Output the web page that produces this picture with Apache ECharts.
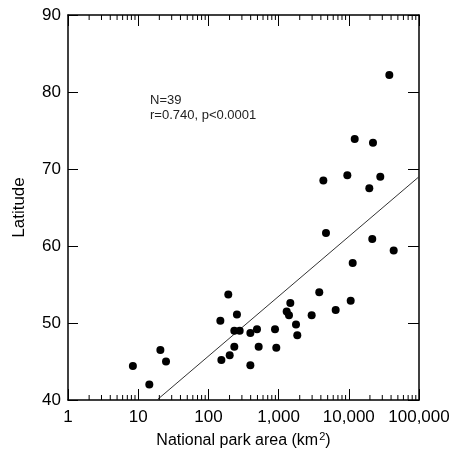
<!DOCTYPE html>
<html><head><meta charset="utf-8">
<script src="https://cdn.jsdelivr.net/npm/echarts@6/dist/echarts.min.js"></script>
<style>html,body{margin:0;padding:0;background:#fff}#c{width:458px;height:458px}</style>
</head><body><div id="c"></div>
<script>
// Park area (km2) and latitude
const parkArea = [8.4, 14.4, 20.7, 24.9, 148, 153, 192, 201, 255, 234, 279, 234, 396, 396, 492, 520,
  889, 927, 1304, 1406, 1469, 1770, 1846, 2958, 3796, 4730, 6500, 10640, 11360, 21600, 43600,
  37800, 12140, 22100, 4340, 9530, 28100, 19600];
const latitude = [44.4, 42.0, 46.5, 45.0, 50.3, 45.2, 53.7, 45.8, 51.1, 49.0, 49.0, 46.9, 48.7, 44.5, 49.2, 46.9,
  49.2, 46.8, 51.5, 51.0, 52.6, 49.8, 48.4, 51.0, 54.0, 61.7, 51.7, 52.9, 57.8, 60.9, 59.4,
  82.2, 73.9, 73.4, 68.5, 69.2, 69.0, 67.5];
// Regression line endpoints
const fitArea = [18.5, 100000];
const fitLat = [40, 69.0];
const yTicks = [40, 50, 60, 70, 80, 90];
const xTickLabels = ['1', '10', '100', '1,000', '10,000', '100,000'];
const annotation = ['N=39', 'r=0.740, p<0.0001'];

const minorTicks = [];
for (let e = 0; e < 5; e++) for (let m = 2; m <= 9; m++) minorTicks.push([m * Math.pow(10, e)]);

const FONT = 'Liberation Sans, Arial, sans-serif';
const chart = echarts.init(document.getElementById('c'), null, {renderer: 'canvas'});
const axisLine = {show: true, onZero: false, lineStyle: {color: '#000', width: 1.5}};
chart.setOption({
  animation: false,
  grid: {left: 68, right: 39, top: 15, bottom: 58, containLabel: false},
  xAxis: [{
    type: 'log', logBase: 10, min: 1, max: 100000, position: 'bottom',
    axisLine: axisLine,
    axisTick: {show: true, inside: true, length: 11, lineStyle: {color: '#000', width: 1}},
    splitLine: {show: false},
    axisLabel: {color: '#000', fontSize: 17, fontFamily: FONT, margin: 9,
      formatter: v => xTickLabels[Math.round(Math.log10(v))]},
    name: '{a|National park area (km}{s|2}{a|)}',
    nameLocation: 'middle', nameGap: 31,
    nameTextStyle: {rich: {
      a: {fontSize: 16, fontFamily: FONT, color: '#000', lineHeight: 20},
      s: {fontSize: 11, fontFamily: FONT, color: '#000', lineHeight: 20, verticalAlign: 'top', padding: [0, 0, 0, 1]}
    }}
  }, {
    type: 'log', logBase: 10, min: 1, max: 100000, position: 'top',
    axisLine: axisLine,
    axisTick: {show: true, inside: true, length: 11, lineStyle: {color: '#000', width: 1}},
    axisLabel: {show: false}, splitLine: {show: false}
  }],
  yAxis: [{
    type: 'value', min: 40, max: 90, interval: 10, position: 'left',
    axisLine: axisLine,
    axisTick: {show: true, inside: true, length: 10, lineStyle: {color: '#000', width: 1}},
    splitLine: {show: false},
    axisLabel: {color: '#000', fontSize: 17, fontFamily: FONT, margin: 7,
      formatter: v => yTicks.includes(v) ? String(v) : ''},
    name: 'Latitude', nameLocation: 'middle', nameGap: 40,
    nameTextStyle: {fontSize: 17, fontFamily: FONT, color: '#000'}
  }, {
    type: 'value', min: 40, max: 90, interval: 10, position: 'right',
    axisLine: axisLine,
    axisTick: {show: true, inside: true, length: 11, lineStyle: {color: '#000', width: 1}},
    axisLabel: {show: false}, splitLine: {show: false}
  }],
  series: [{
    type: 'line', xAxisIndex: 0, yAxisIndex: 0,
    data: fitArea.map((a, i) => [a, fitLat[i]]),
    showSymbol: false, symbol: 'none',
    lineStyle: {color: '#333', width: 1}, silent: true, z: 2
  }, {
    type: 'scatter', xAxisIndex: 0, yAxisIndex: 0,
    data: parkArea.map((a, i) => [a, latitude[i]]),
    symbol: 'circle', symbolSize: 8,
    itemStyle: {color: '#000', opacity: 1}, z: 3
  }, {
    type: 'custom', xAxisIndex: 0, yAxisIndex: 0, silent: true, clip: false,
    data: minorTicks,
    renderItem: function (params, api) {
      const v = api.value(0);
      const b = api.coord([v, 40]);
      const t = api.coord([v, 90]);
      const st = {stroke: '#000', lineWidth: 1};
      return {type: 'group', children: [
        {type: 'line', shape: {x1: b[0], y1: b[1], x2: b[0], y2: b[1] - 5}, style: st},
        {type: 'line', shape: {x1: t[0], y1: t[1], x2: t[0], y2: t[1] + 5}, style: st}
      ]};
    }, z: 4
  }],
  graphic: [{
    type: 'text', left: 150, top: 93,
    style: {text: annotation.join('\n'), fill: '#222', fontSize: 13, fontFamily: FONT, lineHeight: 15}
  }]
});
</script></body></html>
